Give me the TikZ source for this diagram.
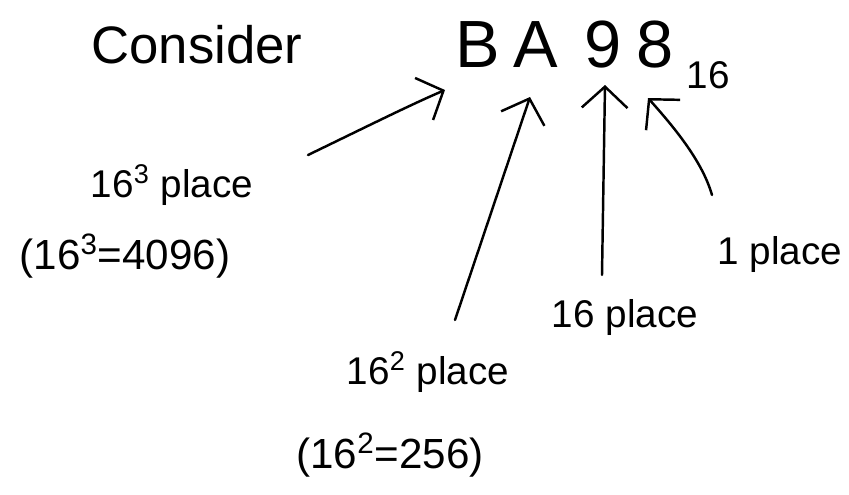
\documentclass[tikz,border=0pt]{standalone}
\usepackage{fontspec}
\setmainfont{Liberation Sans}
\usetikzlibrary{arrows.meta}
\begin{document}
\begin{tikzpicture}[x=0.02cm,y=-0.02cm,
  hand/.style={line width=1.4pt, line cap=round, line join=round},
  arr/.style={hand, -{Straight Barb[length=12pt,width=26pt]}},
  big/.style={font=\fontsize{30}{34}\selectfont, inner sep=0pt},
  dig/.style={font=\fontsize{38}{42}\selectfont, inner sep=0pt},
  lbl/.style={font=\fontsize{22}{26}\selectfont, inner sep=0pt},
  lblb/.style={font=\fontsize{24}{28}\selectfont, inner sep=0pt}]
\useasboundingbox (0,0) rectangle (849,494);
\node[big] (consider) at (197,45) {Consider};
\node[dig] (dB) at (478,45) {B};
\node[dig] (dA) at (536,45) {A};
\node[dig] (d9) at (603,45) {9};
\node[dig] (d8) at (655,45) {8};
\node[lbl] (sub) at (708,75) {16};
\node[lbl] (l3) at (172,185) {16\textsuperscript{3} place};
\node[lblb] (l3b) at (125,256) {(16\textsuperscript{3}=4096)};
\node[lbl] (l2) at (428,372) {16\textsuperscript{2} place};
\node[lblb] (l2b) at (390,455) {(16\textsuperscript{2}=256)};
\node[lbl] (l1) at (625,318) {16 place};
\node[lbl] (l0) at (780,255) {1 place};
\coordinate (s1) at (308,155); \coordinate (e1) at (445,90);
\coordinate (s2) at (455,320); \coordinate (e2) at (530,97);
\coordinate (s3) at (602,275); \coordinate (e3) at (605,85);
\coordinate (s4) at (712,195); \coordinate (e4) at (648,98);
\draw[arr] (s1) .. controls (370,125) and (410,105) .. (e1);
\draw[arr] (s2) -- (e2);
\draw[arr] (s3) -- (e3);
\draw[arr] (s4) .. controls (702,160) and (672,125) .. (e4);
\end{tikzpicture}
\end{document}
